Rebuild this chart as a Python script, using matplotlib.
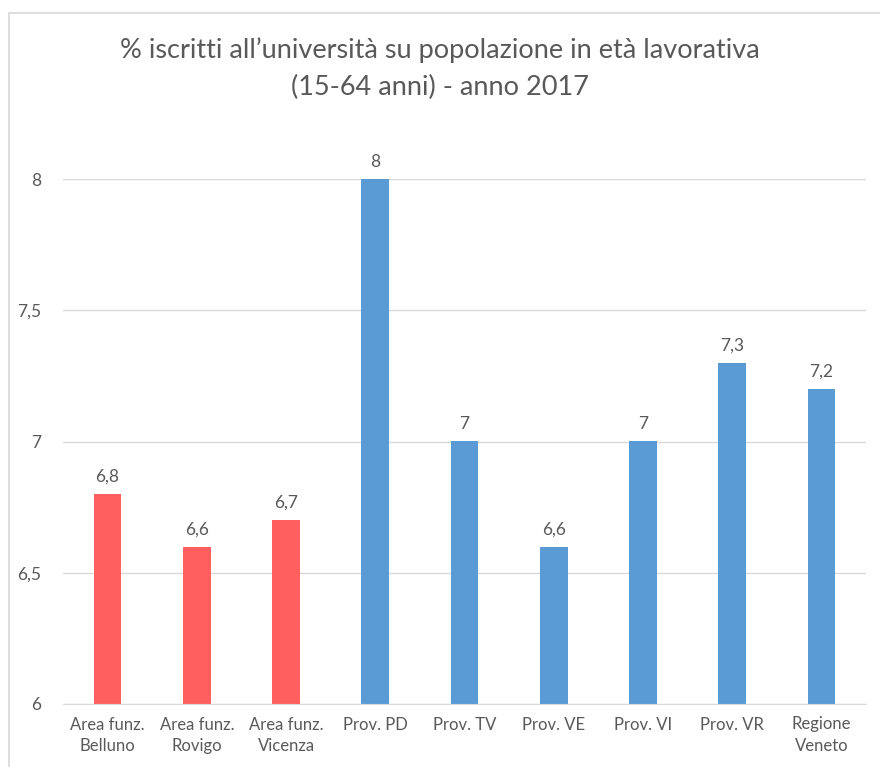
import matplotlib.pyplot as plt
from matplotlib.patches import Rectangle

plt.rcParams['font.family'] = ['Lato', 'DejaVu Sans']

# dati: iscritti all'università / popolazione 15-64 anni (%)
categorie = ['Area funz.\nBelluno', 'Area funz.\nRovigo', 'Area funz.\nVicenza',
             'Prov. PD', 'Prov. TV', 'Prov. VE', 'Prov. VI', 'Prov. VR',
             'Regione\nVeneto']
valori = [6.8, 6.6, 6.7, 8, 7, 6.6, 7, 7.3, 7.2]
etichette = ['6,8', '6,6', '6,7', '8', '7', '6,6', '7', '7,3', '7,2']
colori = ['#FF5F5F'] * 3 + ['#5B9BD5'] * 6
tick_y = [6, 6.5, 7, 7.5, 8]
tick_y_lab = ['6', '6,5', '7', '7,5', '8']

testo = '#595959'

fig = plt.figure(figsize=(8.8, 7.67), dpi=100)
ax = fig.add_axes([63/880, 1 - 704/767, 803/880, 525/767])

x = range(len(valori))
ax.bar(x, [v - 6 for v in valori], bottom=6, width=0.31, color=colori, zorder=2)
for i, (v, lab) in enumerate(zip(valori, etichette)):
    ax.text(i, v + 0.035, lab, ha='center', va='bottom', fontsize=12.5,
            color=testo, clip_on=False)

ax.set_xlim(-0.5, len(valori) - 0.5)
ax.set_ylim(6, 8)
ax.set_yticks(tick_y)
ax.set_yticklabels(tick_y_lab)
ax.set_xticks(list(x))
ax.set_xticklabels(categorie, fontsize=12, color=testo, linespacing=1.45)
ax.tick_params(axis='y', length=0, pad=16, labelsize=12.5, labelcolor=testo)
ax.tick_params(axis='x', length=0, pad=9)
ax.yaxis.grid(True, color='#D9D9D9', linewidth=1, zorder=0)
ax.set_axisbelow(True)
for s in ax.spines.values():
    s.set_visible(False)
ax.spines['bottom'].set_visible(True)
ax.spines['bottom'].set_color('#D9D9D9')

fig.text(0.5, 1 - 50/767, "% iscritti all’università su popolazione in età lavorativa",
         ha='center', va='center', fontsize=19.5, color=testo)
fig.text(0.5, 1 - 87/767, "(15-64 anni) - anno 2017",
         ha='center', va='center', fontsize=19.5, color=testo)

# cornice del grafico
fig.patches.append(Rectangle((9/880, -0.1), 1.2, 1.1 - 13/767, transform=fig.transFigure,
                             fill=False, edgecolor='#D9D9D9', linewidth=1.2))

fig.savefig('out.png', dpi=100)
